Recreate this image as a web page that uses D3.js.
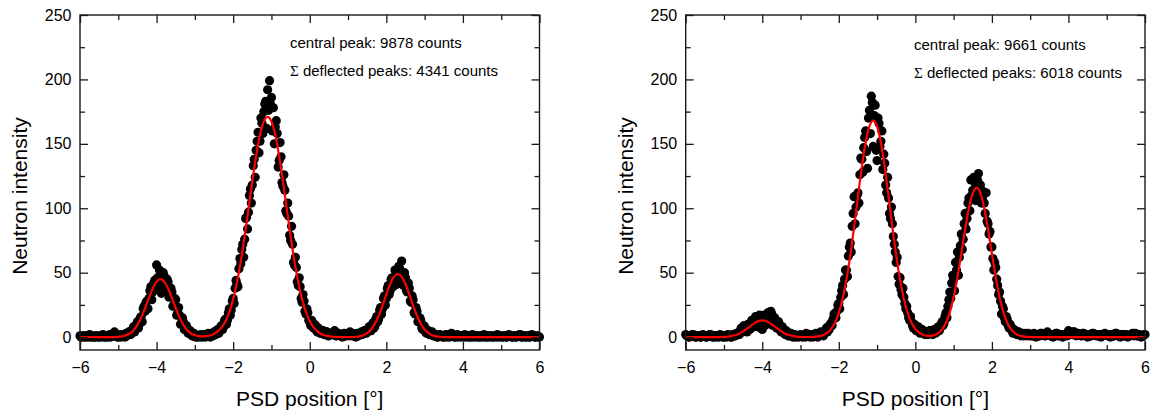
<!DOCTYPE html>
<html>
<head>
<meta charset="utf-8">
<script src="https://cdn.jsdelivr.net/npm/d3@7"></script>
<style>
  body { margin: 0; background: #fff; }
  svg { display: block; }
  text { font-family: Arial, "Liberation Sans", sans-serif; fill: #000; }
</style>
</head>
<body>
<svg id="chart" width="1152" height="412"></svg>
<script>
// Axis ranges and tick labels
const xDomain = [-6, 6];
const yDomain = [-10, 250];
const xMajorTicks = [-6, -4, -2, 0, 2, 4, 6];
const xMinorTicks = [-5, -3, -1, 1, 3, 5];
const yMajorTicks = [0, 50, 100, 150, 200, 250];
const yMinorTicks = [25, 75, 125, 175, 225];
const xTitle = "PSD position [°]";
const yTitle = "Neutron intensity";

// PSD channel grid (degrees) for the measured counts, and grid of the fit curve
const channelStart = -6, channelStep = 0.025;
const fitStart = -6, fitStep = 0.1;

// Panel A: measured counts per channel (-6.000 ... 6.000, 0.025° apart, one row = 1°)
const countsA = [
  1,0,0,1,1,0,0,1,1,0, 2,1,0,0,1,0,0,1,1,0, 0,1,1,0,2,1,0,0,1,0, 1,2,0,1,2,1,4,2,1,0,
  0,1,2,0,1,1,2,0,3,1, 2,4,4,2,3,6,8,4,6,10, 12,7,10,15,16,12,22,24,20,27, 28,22,30,36,39,29,35,42,44,37,
  56,46,42,52,49,34,38,50,47,39, 36,45,43,31,33,38,35,24,25,30, 29,17,19,23,17,10,11,15,12,6, 6,9,7,3,3,5,4,1,1,3,
  2,0,0,1,1,0,2,1,0,1, 2,0,1,2,3,1,0,2,3,1, 4,2,2,5,6,3,5,8,9,6, 8,13,14,10,13,19,22,17,21,28,
  30,26,38,44,41,39,53,61,57,68, 72,62,76,92,93,84,97,110,115,104, 118,133,138,124,145,152,159,143,152,170, 166,158,175,181,183,162,192,176,199,181,
  186,160,178,150,163,168,158,132,137,151, 140,120,117,126,114,98,96,104,94,79, 75,86,72,58,56,62,54,43,40,46, 39,30,27,33,28,20,18,22,19,13,
  12,9,13,8,7,10,9,5,4,7, 6,3,3,5,5,2,2,4,4,1, 1,3,3,2,2,4,5,1,1,3, 3,2,2,1,0,2,3,1,1,2,
  2,1,4,2,1,3,2,1,0,2, 3,1,2,3,4,2,3,5,5,3, 4,6,8,5,5,9,11,7,8,14, 16,12,14,21,23,18,22,30,32,25,
  30,38,40,33,36,45,46,39,42,52, 51,41,44,55,53,42,59,48,40,50, 46,36,35,42,38,28,27,32,29,19, 18,23,20,12,12,15,13,7,6,9,
  8,4,3,5,5,2,2,3,4,1, 1,2,2,0,0,1,2,1,1,0, 0,1,2,0,1,2,0,1,3,1, 1,0,0,1,2,0,1,1,0,1,
  1,0,2,1,0,1,1,0,0,1, 2,0,1,1,0,1,1,0,0,1, 1,0,2,1,0,0,1,1,0,1, 1,0,0,1,1,0,2,1,0,1,
  1,0,0,1,1,0,0,1,2,1, 1,0,0,1,1,0,0,1,1,2, 2,0,0,1,1,0,0,1,1,0, 0,1,2,1,1,0,0,1,1,0,
  0
];
// Panel A: fitted curve (-6.0 ... 6.0, 0.1° apart, one row = 1°)
const fitA = [
  0,0,0,0,0,0,0,0,0,0.1,
  0.2,0.6,1.4,2.8,5.4,9.5,15.3,22.5,30.5,37.8,
  43.1,45,43.1,37.8,30.5,22.5,15.3,9.5,5.4,2.8,
  1.5,0.8,0.5,0.8,1.3,2.4,4.4,7.5,12.4,19.5,
  29.5,42.6,59.0,78.3,99.4,120.8,140.7,156.8,167.3,171,
  167.3,156.8,140.7,120.8,99.4,78.3,59.0,42.6,29.5,19.5,
  12.4,7.5,4.4,2.4,1.3,0.7,0.3,0.2,0.1,0,
  0,0.1,0.3,0.6,1.5,3.1,5.9,10.3,16.6,24.5,
  33.2,41.2,46.9,49,46.9,41.2,33.2,24.5,16.6,10.3,
  5.9,3.1,1.5,0.6,0.3,0.1,0,0,0,0,
  0,0,0,0,0,0,0,0,0,0,
  0,0,0,0,0,0,0,0,0,0,
  0
];
const notesA = ["central peak: 9878 counts", "Σ deflected peaks: 4341 counts"];

// Panel B: measured counts per channel
const countsB = [
  2,1,1,0,0,1,1,2,2,1, 0,0,1,1,1,0,0,1,2,1, 1,0,0,1,1,2,2,1,0,0, 1,1,0,1,1,0,2,1,1,0,
  0,1,1,0,2,1,1,0,0,2, 2,1,1,3,3,2,2,5,7,4, 5,9,8,5,4,10,9,6,7,13, 12,8,10,16,14,8,9,17,15,7,
  6,14,17,9,11,16,19,12,14,20, 18,9,10,15,13,7,8,12,10,5, 4,8,6,3,2,5,4,1,1,3, 3,1,0,2,2,0,1,1,0,1,
  2,1,0,1,1,0,3,1,1,2, 0,1,2,0,1,2,3,1,0,2, 2,4,3,2,1,4,5,7,4,8, 6,10,11,9,14,18,17,15,20,25,
  26,22,31,36,40,33,45,52,52,47, 63,70,73,66,86,96,109,88,101,110, 112,104,126,139,138,128,147,155,160,144, 131,170,176,158,187,182,148,172,180,145,
  137,170,166,148,152,160,130,142,135,118, 112,124,108,96,92,101,88,78,72,66, 58,62,47,41,46,37,33,38,31,26, 22,24,19,15,13,16,12,9,7,10,
  9,5,7,8,6,3,4,6,5,3, 2,4,4,2,3,5,5,3,2,4, 6,3,4,7,8,5,7,10,12,9, 11,16,19,15,24,29,35,30,42,48,
  45,36,58,52,66,48,62,71,80,68, 76,88,96,84,92,104,108,98,122,110, 114,124,120,106,112,122,127,116,118,104, 108,113,104,96,112,90,88,80,82,70,
  70,61,52,58,54,45,40,33,35,28, 18,24,22,15,12,16,14,9,7,10, 8,5,3,6,5,3,2,4,4,2, 1,3,3,1,2,3,1,2,3,1,
  2,1,1,2,3,1,0,2,2,1, 1,3,3,2,2,1,1,3,4,2, 2,1,1,2,0,1,2,3,3,1, 1,2,2,1,0,2,1,2,2,1,
  5,3,3,2,2,4,4,2,1,3, 3,2,2,1,1,3,3,2,2,1, 0,2,2,1,1,3,3,2,2,1, 1,2,2,1,0,2,1,2,3,2,
  2,1,1,2,0,1,2,1,1,3, 3,2,1,1,0,2,2,1,1,2, 2,1,0,1,1,2,2,3,1,2, 3,1,1,2,2,1,0,1,1,2,
  2
];
// Panel B: fitted curve
const fitB = [
  0,0,0,0,0,0,0,0,0,0.1,
  0.2,0.4,0.8,1.6,2.7,4.4,6.5,8.8,10.9,12.45,
  13,12.45,10.9,8.8,6.5,4.4,2.7,1.6,0.8,0.4,
  0.2,0.1,0.1,0.2,0.4,0.8,1.7,3.4,6.4,11.2,
  18.8,29.8,44.7,63.5,85.5,109.0,131.7,150.8,163.5,168,
  163.5,150.8,131.7,109.0,85.5,63.5,44.7,29.8,18.8,11.2,
  6.4,3.5,1.8,1.0,1.0,1.6,3.1,6.0,11.2,19.4,
  31.1,46.6,64.7,83.5,100.2,111.8,116,111.8,100.2,83.5,
  64.7,46.6,31.1,19.4,11.2,6.0,3.0,1.4,0.6,0.2,
  0.1,0,0,0,0,0,0,0,0,0,
  0,0,0,0,0,0,0,0,0,0,
  0,0,0,0,0,0,0,0,0,0,
  0
];
const notesB = ["central peak: 9661 counts", "Σ deflected peaks: 6018 counts"];

// Layout of the two panels
const plotTop = 15, plotBottom = 350;
const panels = [
  { left: 80,    right: 539.5, counts: countsA, fit: fitA, notes: notesA, noteX: 290, noteY: [48, 76] },
  { left: 685.7, right: 1145,  counts: countsB, fit: fitB, notes: notesB, noteX: 914, noteY: [50, 78] }
];

const svg = d3.select("#chart");
const frameColor = "#1a1a1a";

panels.forEach(p => {
  const x = d3.scaleLinear().domain(xDomain).range([p.left, p.right]);
  const y = d3.scaleLinear().domain(yDomain).range([plotBottom, plotTop]);
  const g = svg.append("g");

  const countPts = p.counts.map((v, i) => ({ x: channelStart + i * channelStep, y: v }));
  const fitPts = p.fit.map((v, i) => ({ x: fitStart + i * fitStep, y: v }));

  // measured counts
  g.append("g").selectAll("circle").data(countPts).join("circle")
    .attr("cx", d => x(d.x)).attr("cy", d => y(d.y))
    .attr("r", 4.6).attr("fill", "#000");

  // fit curve
  g.append("path").datum(fitPts)
    .attr("fill", "none").attr("stroke", "#ff0000").attr("stroke-width", 2.2)
    .attr("d", d3.line().x(d => x(d.x)).y(d => y(d.y)).curve(d3.curveMonotoneX));

  // frame
  g.append("rect")
    .attr("x", p.left).attr("y", plotTop)
    .attr("width", p.right - p.left).attr("height", plotBottom - plotTop)
    .attr("fill", "none").attr("stroke", frameColor).attr("stroke-width", 1.4);

  // inward ticks on all four sides
  const addAxis = (axis, tx, ty, labels) => {
    const a = g.append("g").attr("transform", `translate(${tx},${ty})`).call(axis);
    a.select(".domain").remove();
    a.selectAll(".tick line").attr("stroke", frameColor).attr("stroke-width", 1.3);
    if (!labels) a.selectAll(".tick text").remove();
    else a.selectAll(".tick text").attr("font-size", 16).attr("fill", "#000")
      .attr("font-family", "Arial, 'Liberation Sans', sans-serif");
    return a;
  };
  addAxis(d3.axisBottom(x).tickValues(xMajorTicks).tickSize(-8).tickPadding(11.5).tickFormat(d3.format("d")), 0, plotBottom, true);
  addAxis(d3.axisBottom(x).tickValues(xMinorTicks).tickSize(-5), 0, plotBottom, false);
  addAxis(d3.axisTop(x).tickValues(xMajorTicks).tickSize(-8), 0, plotTop, false);
  addAxis(d3.axisTop(x).tickValues(xMinorTicks).tickSize(-5), 0, plotTop, false);
  addAxis(d3.axisLeft(y).tickValues(yMajorTicks).tickSize(-8).tickPadding(8.5).tickFormat(d3.format("d")), p.left, 0, true);
  addAxis(d3.axisLeft(y).tickValues(yMinorTicks).tickSize(-5), p.left, 0, false);
  addAxis(d3.axisRight(y).tickValues(yMajorTicks).tickSize(-8), p.right, 0, false);
  addAxis(d3.axisRight(y).tickValues(yMinorTicks).tickSize(-5), p.right, 0, false);

  // axis titles
  g.append("text")
    .attr("x", (p.left + p.right) / 2).attr("y", 406)
    .attr("text-anchor", "middle").attr("font-size", 21)
    .text(xTitle);
  g.append("text")
    .attr("transform", `translate(${p.left - 53},196) rotate(-90)`)
    .attr("text-anchor", "middle").attr("font-size", 21)
    .text(yTitle);

  // annotations
  p.notes.forEach((note, i) => {
    const t = g.append("text").attr("x", p.noteX).attr("y", p.noteY[i]).attr("font-size", 15);
    if (note.startsWith("Σ")) {
      t.append("tspan").attr("font-family", "'Liberation Serif', 'DejaVu Serif', serif").text("Σ");
      t.append("tspan").text(note.slice(1));
    } else {
      t.text(note);
    }
  });
});
</script>
</body>
</html>
